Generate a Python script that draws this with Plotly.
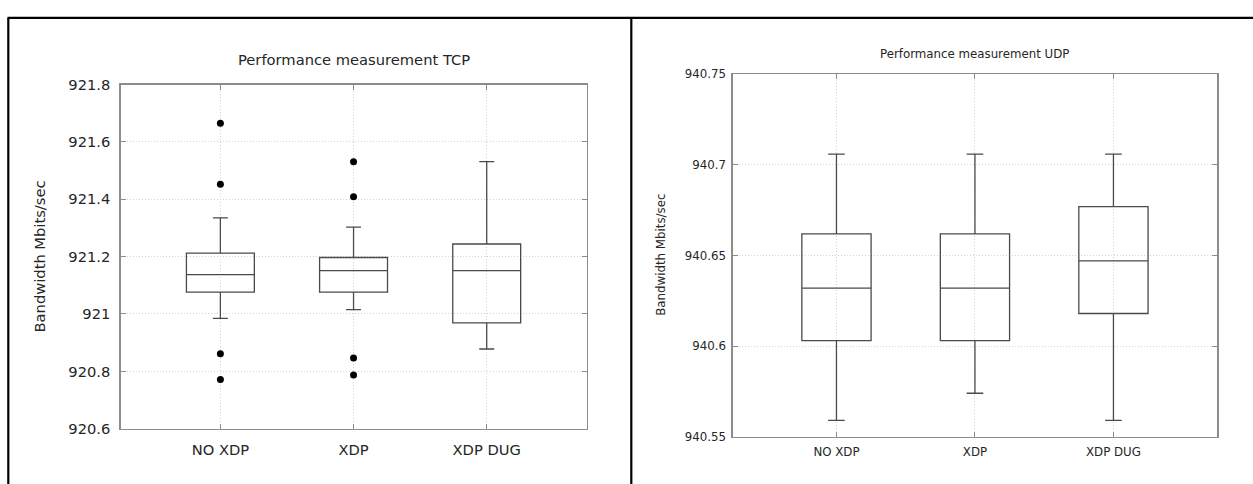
import plotly.graph_objects as go

W, H = 1253, 484

categories = ["NO XDP", "XDP", "XDP DUG"]

# TCP box statistics (Mbits/sec)
tcp_lower = [920.985, 921.015, 920.878]
tcp_q1 = [921.076, 921.076, 920.969]
tcp_median = [921.137, 921.151, 921.151]
tcp_q3 = [921.212, 921.197, 921.244]
tcp_upper = [921.335, 921.303, 921.531]
tcp_outlier_cat = ["NO XDP", "NO XDP", "NO XDP", "NO XDP", "XDP", "XDP", "XDP", "XDP"]
tcp_outlier_val = [921.665, 921.452, 920.861, 920.772, 921.531, 921.409, 920.847, 920.787]
tcp_ticks = [920.6, 920.8, 921.0, 921.2, 921.4, 921.6, 921.8]
tcp_ticktext = ["920.6", "920.8", "921", "921.2", "921.4", "921.6", "921.8"]

# UDP box statistics (Mbits/sec)
udp_lower = [940.559, 940.574, 940.559]
udp_q1 = [940.603, 940.603, 940.618]
udp_median = [940.632, 940.632, 940.647]
udp_q3 = [940.662, 940.662, 940.677]
udp_upper = [940.706, 940.706, 940.706]
udp_ticks = [940.55, 940.6, 940.65, 940.7, 940.75]
udp_ticktext = ["940.55", "940.6", "940.65", "940.7", "940.75"]

FONT = "DejaVu Sans"
TXT = "#262626"
BOXC = "#4a4a4a"
FRAME = "#8c8c8c"
GRID = "#d2d2d2"


def px_x(v):
    return v / W


def px_y(v):
    return 1 - v / H


fig = go.Figure()

fig.add_trace(go.Box(
    x=categories, q1=tcp_q1, median=tcp_median, q3=tcp_q3,
    lowerfence=tcp_lower, upperfence=tcp_upper,
    boxpoints=False, width=0.51, whiskerwidth=0.22,
    line=dict(color=BOXC, width=1.3), fillcolor="rgba(0,0,0,0)",
    xaxis="x", yaxis="y", showlegend=False, hoverinfo="skip"))
fig.add_trace(go.Scatter(
    x=tcp_outlier_cat, y=tcp_outlier_val, mode="markers",
    marker=dict(color="black", size=7), xaxis="x", yaxis="y",
    showlegend=False, hoverinfo="skip"))

fig.add_trace(go.Box(
    x=categories, q1=udp_q1, median=udp_median, q3=udp_q3,
    lowerfence=udp_lower, upperfence=udp_upper,
    boxpoints=False, width=0.5, whiskerwidth=0.24,
    line=dict(color=BOXC, width=1.3), fillcolor="rgba(0,0,0,0)",
    xaxis="x2", yaxis="y2", showlegend=False, hoverinfo="skip"))

axis_common = dict(
    showline=True, linecolor=FRAME, linewidth=1.2, mirror="ticks",
    ticks="inside", ticklen=5, tickcolor=FRAME,
    showgrid=True, gridcolor=GRID, griddash="1px,2px", gridwidth=1,
    zeroline=False, fixedrange=True,
)

fig.update_layout(
    width=W, height=H,
    margin=dict(l=0, r=0, t=0, b=0),
    paper_bgcolor="white", plot_bgcolor="white",
    xaxis=dict(axis_common, domain=[px_x(120.5), px_x(586.6)], anchor="y",
               type="category", categoryorder="array", categoryarray=categories,
               range=[-0.75, 2.75], ticklabelstandoff=7,
               tickfont=dict(family=FONT, size=14.7, color=TXT)),
    yaxis=dict(axis_common, domain=[px_y(435), px_y(78.3)], anchor="x",
               range=[920.6, 921.8], tickvals=tcp_ticks, ticktext=tcp_ticktext,
               ticklabelstandoff=6,
               tickfont=dict(family=FONT, size=14.7, color=TXT)),
    xaxis2=dict(axis_common, domain=[px_x(732.6), px_x(1217.3)], anchor="y2",
                type="category", categoryorder="array", categoryarray=categories,
                range=[-0.75, 2.75], ticklabelstandoff=4,
                tickfont=dict(family=FONT, size=11.8, color=TXT)),
    yaxis2=dict(axis_common, domain=[px_y(443.3), px_y(67.7)], anchor="x2",
                range=[940.55, 940.75], tickvals=udp_ticks, ticktext=udp_ticktext,
                ticklabelstandoff=3,
                tickfont=dict(family=FONT, size=11.8, color=TXT)),
    annotations=[
        dict(text="Performance measurement TCP", x=px_x(353.6), y=px_y(52),
             xref="paper", yref="paper", showarrow=False, xanchor="center", yanchor="middle",
             font=dict(family=FONT, size=14.7, color=TXT)),
        dict(text="Performance measurement UDP", x=px_x(974.8), y=px_y(46.7),
             xref="paper", yref="paper", showarrow=False, xanchor="center", yanchor="middle",
             font=dict(family=FONT, size=11.8, color=TXT)),
        dict(text="Bandwidth Mbits/sec", x=px_x(39), y=px_y(256.5), textangle=-90,
             xref="paper", yref="paper", showarrow=False, xanchor="center", yanchor="middle",
             font=dict(family=FONT, size=14.7, color=TXT)),
        dict(text="Bandwidth Mbits/sec", x=px_x(660.7), y=px_y(255), textangle=-90,
             xref="paper", yref="paper", showarrow=False, xanchor="center", yanchor="middle",
             font=dict(family=FONT, size=11.8, color=TXT)),
    ],
    shapes=[
        dict(type="line", xref="paper", yref="paper", x0=px_x(7.5), x1=1.01, y0=px_y(9.2), y1=px_y(9.2),
             line=dict(color="black", width=2.2)),
        dict(type="line", xref="paper", yref="paper", x0=px_x(8.3), x1=px_x(8.3), y0=-0.02, y1=px_y(9.2),
             line=dict(color="black", width=2.2)),
        dict(type="line", xref="paper", yref="paper", x0=px_x(631.3), x1=px_x(631.3), y0=-0.02, y1=px_y(9.2),
             line=dict(color="black", width=2.2)),
    ],
)

# Remove the browser's default page margin so the figure sits at the page origin.
page_fix = (
    "document.documentElement.style.margin='0';"
    "document.documentElement.style.padding='0';"
    "document.body.style.margin='0';"
    "document.body.style.padding='0';"
    "document.body.style.overflow='hidden';"
)

fig.write_html("out.html", post_script=page_fix,
               config={"displayModeBar": False, "staticPlot": True})
